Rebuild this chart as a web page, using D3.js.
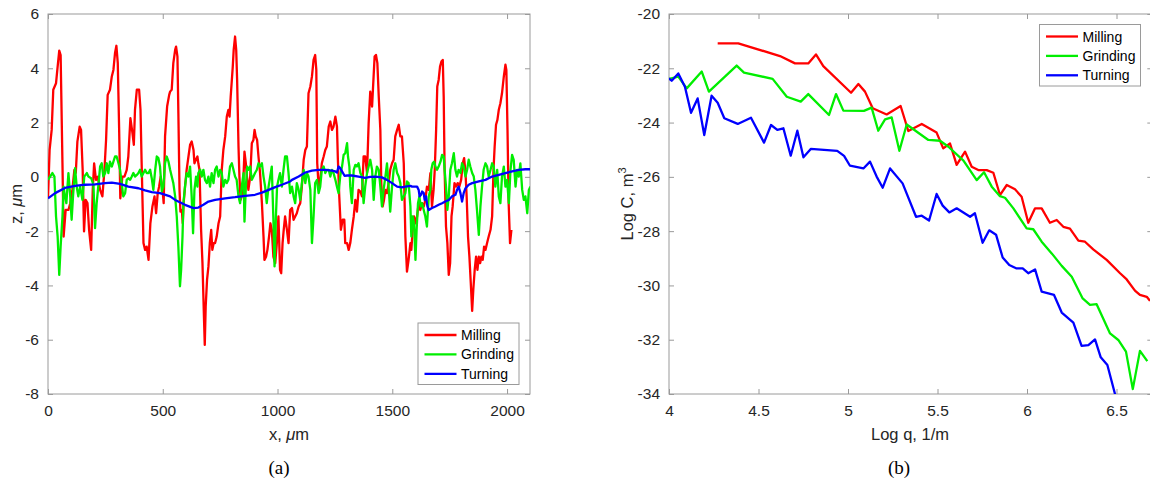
<!DOCTYPE html>
<html lang="en">
<head>
<meta charset="utf-8">
<title>Surface profiles and PSD</title>
<script src="https://cdn.jsdelivr.net/npm/d3@7"></script>
<style>
  body { margin: 0; background: #fff; }
  svg text { font-family: "Liberation Sans", Arial, Helvetica, sans-serif; fill: #262626; }
  .axis path { display: none; }
  .axis line { stroke: #9a9a9a; }
  .axis text { font-size: 15.5px; fill: #262626; }
  .label { font-size: 16.5px; }
  .caption { font-family: "Liberation Serif", "Times New Roman", serif !important; font-size: 19px; fill: #000 !important; }
  .legend text { font-size: 14px; fill: #000; }
</style>
</head>
<body>
<script>
// series names and colours
var seriesNames = ["Milling", "Grinding", "Turning"];
var seriesColors = ["#ff0000", "#00ee00", "#0000ff"];

// (a) surface profiles: [x in um, z in um]
var profileMilling = [
  [0,-0.79],[7,0.99],[16,1.73],[23,3.21],[35,3.45],[42,4.06],[49,4.65],[55,4.49],[63,0.50],[68,-2.20],[77,-1.22],[89,-1.22],[97,-0.97],[106,-0.48],[115,0.26],[121,0.14],[128,1.30],[138,1.85],[144,1.73],[151,0.26],[157,-2.01],[164,-0.85],[172,-0.97],[179,-1.95],[188,-2.69],[195,-0.48],[201,0.50],[209,-0.11],[217,0.01],[227,-0.48],[237,-0.72],[246,0.26],[253,1.36],[260,3.02],[270,3.21],[278,3.70],[285,3.94],[292,4.56],[298,4.83],[304,4.19],[310,1.73],[315,-0.79],[324,0.01],[333,0.01],[343,0.26],[350,0.75],[359,2.16],[368,1.61],[374,1.18],[379,2.47],[387,3.21],[397,3.21],[403,2.47],[408,0.50],[416,-2.44],[423,-2.69],[430,-2.57],[438,-3.06],[446,-1.71],[455,-1.09],[464,-0.72],[471,-1.34],[478,-0.60],[484,-0.36],[491,0.01],[499,-0.48],[504,-0.97],[510,1.49],[519,2.59],[528,3.02],
  [532,3.14],[539,3.21],[546,4.19],[554,4.68],[558,4.80],[564,4.43],[568,2.35],[573,-0.48],[577,-1.28],[583,-1.22],[587,-1.71],[591,-0.97],[597,-0.36],[604,0.26],[612,0.75],[619,1.18],[626,1.30],[634,0.99],[638,0.50],[644,0.63],[651,0.75],[655,0.50],[660,0.26],[667,-1.95],[673,-3.18],[679,-5.02],[683,-6.19],[687,-4.78],[693,-3.79],[699,-3.30],[705,-2.44],[711,-1.95],[716,-2.69],[722,-2.44],[728,-2.44],[735,-2.20],[743,-1.71],[750,-1.46],[757,0.26],[764,0.99],[772,1.49],[779,2.22],[786,2.47],[791,2.22],[796,2.96],[801,3.57],[805,4.06],[809,4.68],[815,5.17],[820,4.68],[824,3.57],[830,1.12],[834,0.01],[839,-0.85],[844,-0.72],[850,-0.36],[856,0.93],[862,0.50],[868,-0.11],[873,-0.48],[881,0.01],[888,1.24],[895,1.36],[900,1.73],[905,1.49],[911,1.36],[917,0.75],[924,0.14],[932,-0.97],[939,-2.20],[943,-3.06],[950,-2.94],[956,-2.69],[963,-2.20],[969,-1.71],[975,-1.95],[982,-2.94],[990,-3.18],[997,-2.44],[1004,-1.46],[1011,-3.43],[1016,-3.55],[1022,-2.44],[1027,-1.95],[1033,-1.46],
  [1041,-1.95],[1048,-2.44],[1055,-1.22],[1063,-1.15],[1070,-1.58],[1077,-1.46],[1084,-1.34],[1092,-1.09],[1099,-0.97],[1106,-0.36],[1114,0.63],[1121,0.99],[1128,1.12],[1135,3.08],[1143,3.33],[1150,3.70],[1157,4.31],[1164,4.49],[1169,3.94],[1173,0.50],[1179,-0.36],[1186,-0.11],[1193,0.50],[1201,0.75],[1208,0.99],[1215,1.12],[1223,1.85],[1230,2.04],[1237,1.73],[1244,1.85],[1252,2.22],[1259,1.85],[1263,0.63],[1269,-0.72],[1276,-1.95],[1284,-1.58],[1291,-1.58],[1295,-2.44],[1303,-2.44],[1310,-2.69],[1317,-2.44],[1324,-1.95],[1332,-1.46],[1339,-0.85],[1346,-1.28],[1353,-0.48],[1361,-0.54],[1368,-0.72],[1375,0.75],[1382,0.75],[1390,0.14],[1397,1.98],[1404,3.14],[1412,2.59],[1416,3.27],[1423,4.43],[1429,4.49],[1435,4.19],[1441,2.96],[1448,1.73],[1452,-0.23],[1458,-1.09],[1464,-0.85],[1470,-0.48],[1477,-0.60],[1484,-0.23],[1491,0.26],[1499,0.50],[1506,0.63],[1513,1.49],[1521,1.73],[1528,1.92],[1535,1.49],[1542,1.49],[1550,0.50],[1557,-2.20],[1564,-3.49],[1571,-3.06],[1579,-2.44],
  [1583,-2.69],[1589,-1.95],[1595,-1.46],[1601,-1.71],[1608,-1.46],[1615,-0.97],[1622,-1.22],[1630,-0.97],[1637,-1.09],[1644,-0.85],[1651,-0.36],[1659,-0.48],[1666,0.14],[1673,-1.09],[1680,-0.48],[1685,0.26],[1691,1.73],[1696,3.33],[1702,3.57],[1708,4.06],[1714,4.25],[1720,4.31],[1724,2.96],[1728,0.26],[1734,-1.83],[1740,-2.44],[1746,-3.61],[1752,-3.18],[1758,-1.46],[1763,-1.09],[1771,-0.23],[1778,-0.36],[1785,-0.23],[1792,-0.36],[1800,-0.11],[1807,0.50],[1813,0.69],[1819,0.14],[1824,-0.72],[1830,-2.20],[1836,-2.94],[1842,-3.92],[1848,-4.94],[1853,-4.16],[1859,-3.43],[1865,-2.94],[1871,-3.43],[1877,-2.94],[1883,-3.18],[1888,-2.94],[1894,-3.06],[1900,-2.57],[1906,-2.69],[1913,-2.44],[1920,-2.20],[1928,-1.95],[1935,-1.46],[1941,0.26],[1946,1.12],[1952,1.92],[1958,2.10],[1964,2.47],[1971,2.71],[1978,3.08],[1986,3.70],[1993,4.13],[1997,3.94],[2002,1.73],[2007,-0.97],[2013,-2.44],[2019,-1.95]
];
var profileGrinding = [
  [0,-0.11],[9,0.01],[19,0.14],[28,0.01],[35,-1.46],[42,-2.20],[49,-3.61],[55,-2.57],[63,-1.46],[68,-0.36],[74,-0.72],[80,-0.97],[89,0.14],[96,-0.60],[103,-1.58],[109,-0.72],[118,0.32],[125,-0.36],[132,-0.72],[140,-0.36],[150,-0.85],[158,0.01],[169,0.14],[176,0.01],[188,-0.05],[198,-0.29],[205,-1.89],[212,-0.97],[219,-0.36],[227,0.38],[234,0.50],[241,0.01],[249,0.14],[256,0.50],[263,0.14],[270,0.56],[278,0.38],[285,0.56],[292,0.75],[299,0.75],[307,0.50],[314,0.26],[321,-0.23],[328,-0.72],[336,-0.60],[343,-0.11],[350,-0.05],[358,-0.11],[365,0.01],[372,0.14],[379,0.01],[387,0.07],[394,0.14],[401,0.26],[408,0.01],[416,0.14],[423,0.26],[430,0.14],[438,0.14],[445,0.26],[452,-0.05],[459,-0.48],[467,0.26],[474,0.75],[481,0.69],[488,0.38],[496,-0.54],[503,-0.36],
  [510,0.50],[517,0.75],[525,0.56],[532,0.26],[539,0.01],[546,-0.23],[554,-0.72],[561,-1.46],[568,-2.57],[575,-4.03],[580,-3.43],[586,-2.20],[590,-0.97],[597,-0.36],[604,0.14],[612,0.01],[619,0.38],[626,-0.72],[632,-2.08],[638,-0.48],[645,0.01],[651,-0.36],[655,0.14],[663,0.26],[670,0.01],[677,0.26],[684,-0.11],[692,-0.23],[699,0.01],[706,-0.36],[713,0.14],[721,-0.23],[728,0.26],[735,0.38],[743,0.01],[750,0.26],[757,0.14],[764,-0.36],[772,-0.11],[779,-0.23],[786,-0.11],[793,0.38],[801,0.50],[808,0.26],[815,0.01],[822,-0.11],[830,-0.72],[837,-0.97],[844,-0.36],[852,0.14],[856,-1.65],[862,-0.36],[868,0.38],[873,0.26],[881,0.38],[888,-0.11],[895,0.01],[902,0.14],[910,0.26],[917,0.50],[924,0.38],[932,0.50],[939,0.01],[946,-0.36],[953,-0.97],[961,-0.36],[968,0.01],[975,0.38],[982,-1.58],[987,-3.30],[993,-1.46],[998,-0.36],[1004,-0.11],[1011,0.14],[1019,-0.36],[1026,0.26],[1033,0.75],[1041,0.75],[1048,0.14],[1055,-0.60],
  [1063,-0.36],[1070,-0.72],[1077,-0.97],[1084,-0.23],[1092,-0.48],[1099,-0.85],[1106,-0.23],[1114,0.26],[1121,-0.23],[1128,0.14],[1135,0.01],[1143,-0.48],[1150,-2.44],[1157,-1.46],[1164,-0.23],[1172,-0.11],[1179,-0.60],[1186,-0.36],[1193,0.26],[1201,0.38],[1208,0.14],[1215,0.26],[1223,0.26],[1230,0.01],[1237,0.26],[1244,0.14],[1252,-0.11],[1259,-0.36],[1266,-0.60],[1273,0.01],[1281,0.38],[1288,0.81],[1295,0.87],[1303,1.24],[1307,0.75],[1313,0.38],[1317,-0.36],[1324,-0.97],[1332,0.26],[1339,0.44],[1346,0.38],[1353,0.50],[1361,0.14],[1368,0.01],[1375,-0.97],[1382,-0.36],[1390,0.14],[1397,0.38],[1404,0.63],[1412,0.26],[1419,-0.85],[1426,0.01],[1433,0.38],[1441,0.26],[1448,-0.36],[1455,-1.09],[1462,-0.48],[1470,0.01],[1477,0.50],[1484,-0.36],[1491,-1.28],[1499,-0.36],[1506,0.26],[1513,0.50],[1521,0.14],[1528,0.01],[1535,-0.23],[1542,-0.85],[1550,-0.72],[1557,-0.60],[1564,-0.17],[1571,-0.23],[1579,-1.09],
  [1583,-2.20],[1589,-1.46],[1595,-1.71],[1601,-3.06],[1606,-1.95],[1612,-0.97],[1618,-0.72],[1624,-1.09],[1630,-0.97],[1637,-1.22],[1644,-1.46],[1651,-1.83],[1659,-0.72],[1666,-0.48],[1670,0.26],[1676,0.50],[1682,0.56],[1688,0.38],[1695,0.26],[1702,0.38],[1710,0.56],[1717,0.81],[1724,0.75],[1728,0.26],[1734,-0.36],[1740,-1.22],[1746,-0.72],[1753,0.26],[1760,0.50],[1768,0.87],[1775,0.26],[1782,0.01],[1789,0.26],[1797,0.14],[1804,0.50],[1811,0.38],[1819,0.01],[1826,0.26],[1833,0.63],[1840,0.38],[1848,0.14],[1855,0.01],[1862,-0.48],[1869,-1.22],[1877,-2.14],[1884,-1.09],[1891,-0.36],[1898,0.26],[1906,0.50],[1913,0.38],[1920,0.01],[1928,0.26],[1935,0.50],[1942,0.38],[1949,-0.36],[1957,0.26],[1964,-0.72],[1971,-0.97],[1978,0.01],[1986,0.38],[1993,-0.36],[2000,-0.11],[2008,-0.97],[2015,0.26],[2022,0.81],[2029,0.63],[2037,-0.36],[2044,0.26],[2051,0.01],[2058,0.50],[2066,-0.48],[2073,-0.85],[2080,-0.72],[2088,-1.34],[2095,-0.48],[2102,-0.36]
];
var profileTurning = [
  [0,-0.79],[31,-0.60],[74,-0.41],[118,-0.33],[161,-0.29],[205,-0.28],[248,-0.23],[278,-0.21],[314,-0.26],[350,-0.36],[394,-0.42],[423,-0.50],[452,-0.56],[488,-0.60],[532,-0.72],
  [554,-0.85],[597,-1.03],[634,-1.15],[655,-1.13],[677,-1.03],[699,-0.91],[728,-0.85],[772,-0.79],[815,-0.75],[859,-0.70],[902,-0.66],[932,-0.58],[961,-0.48],[990,-0.38],[1019,-0.29],[1055,-0.17],
  [1063,-0.11],[1092,0.01],[1121,0.16],[1150,0.23],[1179,0.26],[1208,0.26],[1237,0.23],[1252,0.20],[1259,0.16],[1266,0.38],[1273,0.32],[1281,0.20],[1292,0.04],[1303,0.05],[1324,0.05],[1353,0.01],[1382,-0.04],[1404,0.00],[1426,0.01],[1455,-0.02],[1477,-0.11],[1499,-0.23],[1521,-0.36],[1542,-0.39],[1557,-0.36],[1579,-0.33],
  [1586,-0.36],[1608,-0.36],[1615,-0.48],[1619,-0.72],[1625,-0.66],[1630,-0.54],[1637,-0.60],[1641,-0.85],[1647,-0.72],[1653,-1.09],[1659,-1.22],[1673,-1.15],[1688,-1.09],[1702,-1.03],[1717,-0.97],[1731,-0.91],[1746,-0.85],[1760,-0.72],[1775,-0.66],[1782,-0.48],[1789,-0.36],[1797,-0.60],[1804,-0.91],[1811,-0.60],[1819,-0.42],[1833,-0.29],[1848,-0.23],[1877,-0.17],[1906,-0.11],[1935,0.01],[1964,0.07],[1993,0.14],[2022,0.20],[2051,0.26],[2080,0.28],[2102,0.28]
];

// (b) power spectral density: [log q, log C]
var psdMilling = [
  [4.272,-21.08],[4.387,-21.08],[4.620,-21.55],[4.704,-21.82],[4.778,-21.82],[4.821,-21.49],[4.862,-21.92],[5.017,-22.90],[5.058,-22.58],[5.095,-22.86],[5.138,-23.47],[5.216,-23.70],[5.294,-23.39],[5.337,-24.31],[5.412,-24.05],[5.495,-24.37],[5.532,-24.95],[5.570,-24.77],[5.607,-25.56],[5.654,-25.07],[5.691,-25.63],[5.728,-25.75],[5.775,-25.75],[5.812,-25.85],[5.849,-26.67],[5.887,-26.30],[5.933,-26.46],[5.970,-26.73],[6.007,-27.69],[6.045,-27.16],[6.082,-27.16],[6.128,-27.69],[6.166,-27.59],[6.203,-27.84],[6.240,-27.91],[6.287,-28.35],[6.324,-28.39],[6.370,-28.67],[6.445,-29.06],[6.520,-29.55],[6.557,-29.78],[6.603,-30.19],[6.631,-30.35],[6.669,-30.42],[6.687,-30.57]
];
var psdGrinding = [
  [4.000,-22.39],[4.052,-22.31],[4.099,-22.74],[4.183,-22.12],[4.223,-22.86],[4.378,-21.90],[4.419,-22.16],[4.579,-22.39],[4.658,-23.05],[4.736,-23.23],[4.778,-22.95],[4.894,-23.72],[4.933,-22.95],[4.974,-23.56],[5.089,-23.57],[5.132,-23.45],[5.169,-24.30],[5.207,-23.88],[5.244,-23.81],[5.287,-25.04],[5.328,-24.07],[5.449,-24.64],[5.514,-24.67],[5.561,-24.89],[5.645,-25.40],[5.719,-26.12],[5.760,-25.83],[5.803,-26.36],[5.849,-26.71],[5.877,-26.77],[5.924,-27.16],[5.998,-27.90],[6.035,-27.93],[6.082,-28.39],[6.138,-28.82],[6.194,-29.28],[6.250,-29.68],[6.311,-30.48],[6.352,-30.72],[6.389,-30.69],[6.464,-31.77],[6.510,-32.01],[6.553,-32.44],[6.591,-33.82],[6.631,-32.41],[6.672,-32.79]
];
var psdTurning = [
  [4.000,-22.37],[4.015,-22.46],[4.052,-22.19],[4.089,-22.68],[4.123,-23.64],[4.160,-23.11],[4.197,-24.46],[4.238,-23.01],[4.272,-23.27],[4.309,-23.84],[4.384,-24.05],[4.458,-23.82],[4.531,-24.74],[4.570,-24.09],[4.605,-24.27],[4.639,-24.21],[4.680,-25.22],[4.717,-24.30],[4.751,-25.28],[4.792,-24.97],[4.940,-25.04],[4.978,-25.23],[5.011,-25.59],[5.086,-25.69],[5.123,-25.44],[5.160,-25.99],[5.194,-26.40],[5.235,-25.69],[5.305,-26.24],[5.380,-27.47],[5.412,-27.43],[5.453,-27.61],[5.495,-26.63],[5.529,-27.06],[5.566,-27.31],[5.607,-27.16],[5.682,-27.47],[5.709,-27.34],[5.752,-28.43],[5.789,-27.97],[5.827,-28.13],[5.864,-28.97],[5.901,-29.25],[5.939,-29.37],[5.976,-29.37],[6.007,-29.55],[6.045,-29.41],[6.082,-30.23],[6.151,-30.35],[6.194,-31.00],[6.259,-31.37],[6.305,-32.23],[6.343,-32.20],[6.380,-31.99],[6.412,-32.65],[6.449,-32.93],[6.492,-34.01]
];

// tick values
var ticksAx = [0, 500, 1000, 1500, 2000];
var ticksAy = [-8, -6, -4, -2, 0, 2, 4, 6];
var ticksBx = [4, 4.5, 5, 5.5, 6, 6.5];
var ticksBy = [-34, -32, -30, -28, -26, -24, -22, -20];

var w = 1150, h = 484;
var svg = d3.select("body").append("svg")
  .attr("width", w).attr("height", h);

function drawPanel(opt) {
  var x = d3.scaleLinear().domain(opt.xDomain).range([opt.left, opt.right]);
  var y = d3.scaleLinear().domain(opt.yDomain).range([opt.bottom, opt.top]);
  var g = svg.append("g");

  // clip region for the lines
  g.append("clipPath").attr("id", opt.id + "-clip")
    .append("rect")
    .attr("x", opt.left).attr("y", opt.top)
    .attr("width", opt.right - opt.left).attr("height", opt.bottom - opt.top);

  var tick = 5;
  // bottom / left with labels, top / right ticks only (box on)
  g.append("g").attr("class", "axis")
    .attr("transform", "translate(0," + opt.bottom + ")")
    .call(d3.axisBottom(x).tickValues(opt.xTicks).tickSizeInner(-tick).tickSizeOuter(0).tickPadding(11).tickFormat(d3.format("")));
  g.append("g").attr("class", "axis")
    .attr("transform", "translate(0," + opt.top + ")")
    .call(d3.axisTop(x).tickValues(opt.xTicks).tickSizeInner(-tick).tickSizeOuter(0).tickFormat(""));
  g.append("g").attr("class", "axis")
    .attr("transform", "translate(" + opt.left + ",0)")
    .call(d3.axisLeft(y).tickValues(opt.yTicks).tickSizeInner(-tick).tickSizeOuter(0).tickPadding(9).tickFormat(d3.format("")));
  g.append("g").attr("class", "axis")
    .attr("transform", "translate(" + opt.right + ",0)")
    .call(d3.axisRight(y).tickValues(opt.yTicks).tickSizeInner(-tick).tickSizeOuter(0).tickFormat(""));

  // replace the hyphen with a plain minus look as in the figure
  g.selectAll(".axis text").text(function() { return this.textContent.replace("\u2212", "-"); });

  // box
  g.append("rect")
    .attr("x", opt.left).attr("y", opt.top)
    .attr("width", opt.right - opt.left).attr("height", opt.bottom - opt.top)
    .attr("fill", "none").attr("stroke", "#9a9a9a").attr("stroke-width", 1);

  var line = d3.line().x(function(d) { return x(d[0]); }).y(function(d) { return y(d[1]); });
  var lines = g.append("g").attr("clip-path", "url(#" + opt.id + "-clip)");
  opt.series.forEach(function(s, i) {
    lines.append("path").datum(s)
      .attr("d", line)
      .attr("fill", "none")
      .attr("stroke", seriesColors[i])
      .attr("stroke-width", 2.3)
      .attr("stroke-linejoin", "round");
  });

  // legend
  var lg = g.append("g").attr("class", "legend")
    .attr("transform", "translate(" + opt.legend[0] + "," + opt.legend[1] + ")");
  lg.append("rect").attr("width", 101).attr("height", 61.5)
    .attr("fill", "#fff").attr("stroke", "#9a9a9a").attr("stroke-width", 1);
  seriesNames.forEach(function(name, i) {
    var yy = 12 + i * 19.4;
    lg.append("line").attr("x1", 6.5).attr("x2", 38.5).attr("y1", yy).attr("y2", yy)
      .attr("stroke", seriesColors[i]).attr("stroke-width", 2.3);
    lg.append("text").attr("x", 43).attr("y", yy + 5).text(name);
  });

  return g;
}

// (a)
var ga = drawPanel({
  id: "a", left: 48, right: 530, top: 14, bottom: 394,
  xDomain: [0, 2100], yDomain: [-8, 6], xTicks: ticksAx, yTicks: ticksAy,
  series: [profileMilling, profileGrinding, profileTurning],
  legend: [418, 323]
});
var xla = ga.append("text").attr("class", "label").attr("x", 289).attr("y", 440).attr("text-anchor", "middle");
xla.append("tspan").text("x, ");
xla.append("tspan").attr("font-style", "italic").text("\u03bc");
xla.append("tspan").text("m");
var yla = ga.append("text").attr("class", "label").attr("text-anchor", "middle")
  .attr("transform", "translate(22,204) rotate(-90)");
yla.append("tspan").text("z, ");
yla.append("tspan").attr("font-style", "italic").text("\u03bc");
yla.append("tspan").text("m");
ga.append("text").attr("class", "caption").attr("x", 279).attr("y", 474).attr("text-anchor", "middle").text("(a)");

// (b)
var gb = drawPanel({
  id: "b", left: 669, right: 1152.3, top: 14, bottom: 394,
  xDomain: [4, 6.7], yDomain: [-34, -20], xTicks: ticksBx, yTicks: ticksBy,
  series: [psdMilling, psdGrinding, psdTurning],
  legend: [1039.5, 24.5]
});
gb.append("text").attr("class", "label").attr("x", 910).attr("y", 440).attr("text-anchor", "middle").text("Log q, 1/m");
var ylb = gb.append("text").attr("class", "label").attr("text-anchor", "middle")
  .attr("transform", "translate(633,204) rotate(-90)");
ylb.append("tspan").text("Log C, m");
ylb.append("tspan").attr("font-size", "11px").attr("dy", "-7").text("3");
gb.append("text").attr("class", "caption").attr("x", 899).attr("y", 474).attr("text-anchor", "middle").text("(b)");
</script>
</body>
</html>
